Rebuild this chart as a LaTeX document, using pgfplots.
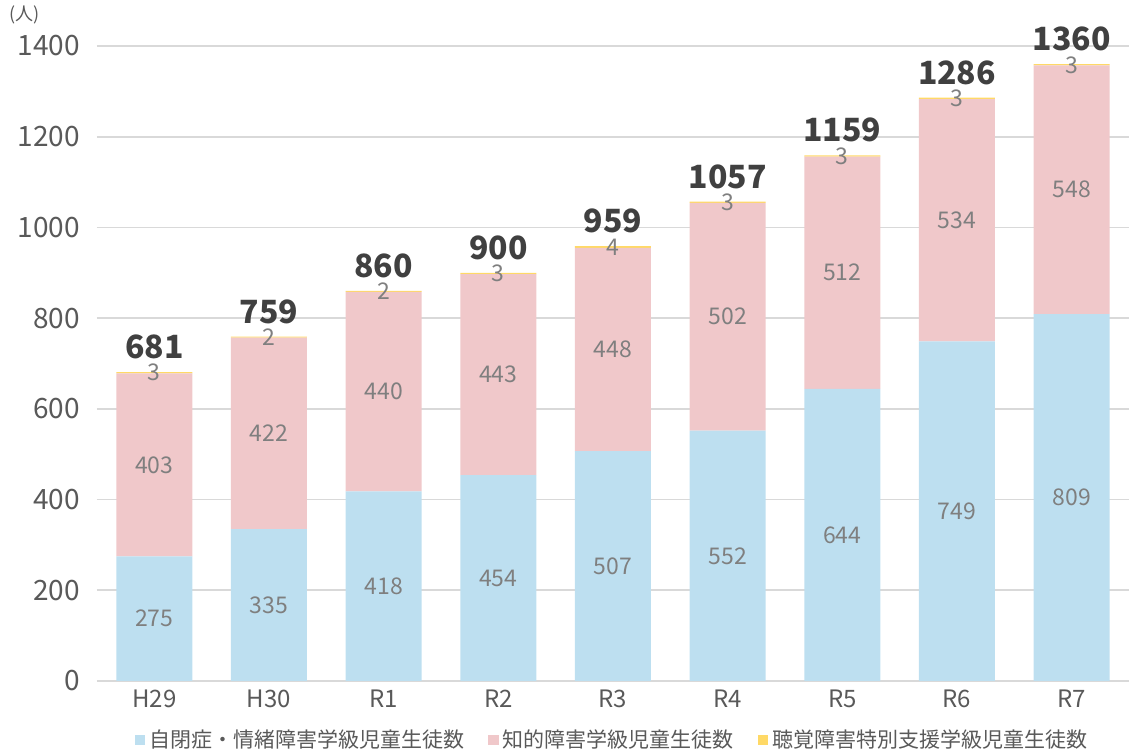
\documentclass[border=0pt]{standalone}
\usepackage{pgfplots}
\usepackage{pgfplotstable}
\pgfplotsset{compat=1.18}
\usepackage{fontspec}
\setmainfont{Noto Sans CJK JP}
\definecolor{cblue}{HTML}{BDDFF0}
\definecolor{cpink}{HTML}{F0C8CA}
\definecolor{cyel}{HTML}{FFD966}
\definecolor{ticktxt}{HTML}{595959}
\definecolor{labtxt}{HTML}{7F7F7F}
\definecolor{tottxt}{HTML}{404040}
\definecolor{gridc}{HTML}{D9D9D9}
\pgfplotstableread{
x a b c t
0 275 403 3 681
1 335 422 2 759
2 418 440 2 860
3 454 443 3 900
4 507 448 4 959
5 552 502 3 1057
6 644 512 3 1159
7 749 534 3 1286
8 809 548 3 1360
}\data
\pgfplotsset{
  common/.style={
    at={(0,0)}, anchor=south west,
    scale only axis,
    width=516pt, height=317.5pt,
    xmin=-0.5, xmax=8.5,
    ymin=0, ymax=1400,
    /pgf/number format/assume math mode=true,
    /pgf/number format/1000 sep={},
  },
  seglab/.style={draw=none, mark=none, nodes near coords, point meta=explicit,
    every node near coord/.append style={anchor=center,
      font=\fontsize{11.5}{11.5}\selectfont, text=labtxt}},
}
\begin{document}
\begin{tikzpicture}
\begin{axis}[
  common,
  ybar stacked,
  bar width=38pt,
  ytick={0,200,...,1400},
  xtick=data,
  xticklabels={H29,H30,R1,R2,R3,R4,R5,R6,R7},
  major tick length=0pt,
  axis line style={draw=none},
  ymajorgrids,
  grid style={gridc, line width=0.8pt},
  yticklabel style={font=\fontsize{14}{14}\selectfont, text=ticktxt, xshift=-5pt},
  xticklabel style={font=\fontsize{12}{12}\selectfont, text=ticktxt, yshift=-1pt},
  legend style={at={(0.5,-0.093)}, anchor=center, draw=none, fill=none,
    legend columns=-1, font=\fontsize{10.5}{10.5}\selectfont, text=ticktxt,
    /tikz/every even column/.append style={column sep=10pt},
    inner sep=0pt},
  legend image code/.code={\fill[#1,draw=none] (0pt,-2.6pt) rectangle (5.2pt,2.6pt);},
  legend cell align=left,
]
\addplot[fill=cblue, draw=none] table[x=x, y=a] {\data};
\addlegendentry{自閉症・情緒障害学級児童生徒数}
\addplot[fill=cpink, draw=none] table[x=x, y=b] {\data};
\addlegendentry{知的障害学級児童生徒数}
\addplot[fill=cyel, draw=none] table[x=x, y=c] {\data};
\addlegendentry{聴覚障害特別支援学級児童生徒数}
\end{axis}
\begin{axis}[common, hide axis, clip=false]
\addplot[seglab] table[x=x, y expr=\thisrow{a}/2, meta=a] {\data};
\addplot[seglab] table[x=x, y expr=\thisrow{a}+\thisrow{b}/2, meta=b] {\data};
\addplot[seglab] table[x=x, y expr=\thisrow{t}-\thisrow{c}/2, meta=c] {\data};
\addplot[draw=none, mark=none, nodes near coords, point meta=explicit,
  every node near coord/.append style={anchor=south, yshift=3pt,
     font=\fontsize{16}{16}\selectfont\bfseries, text=tottxt}]
  table[x=x, y=t, meta=t] {\data};
\end{axis}
\node[font=\fontsize{9}{9}\selectfont, text=ticktxt] at (-36pt,333pt) {(人)};
\pgfresetboundingbox
\path[use as bounding box] (-48.5pt,-36pt) rectangle (516pt,340.5pt);
\end{tikzpicture}
\end{document}
